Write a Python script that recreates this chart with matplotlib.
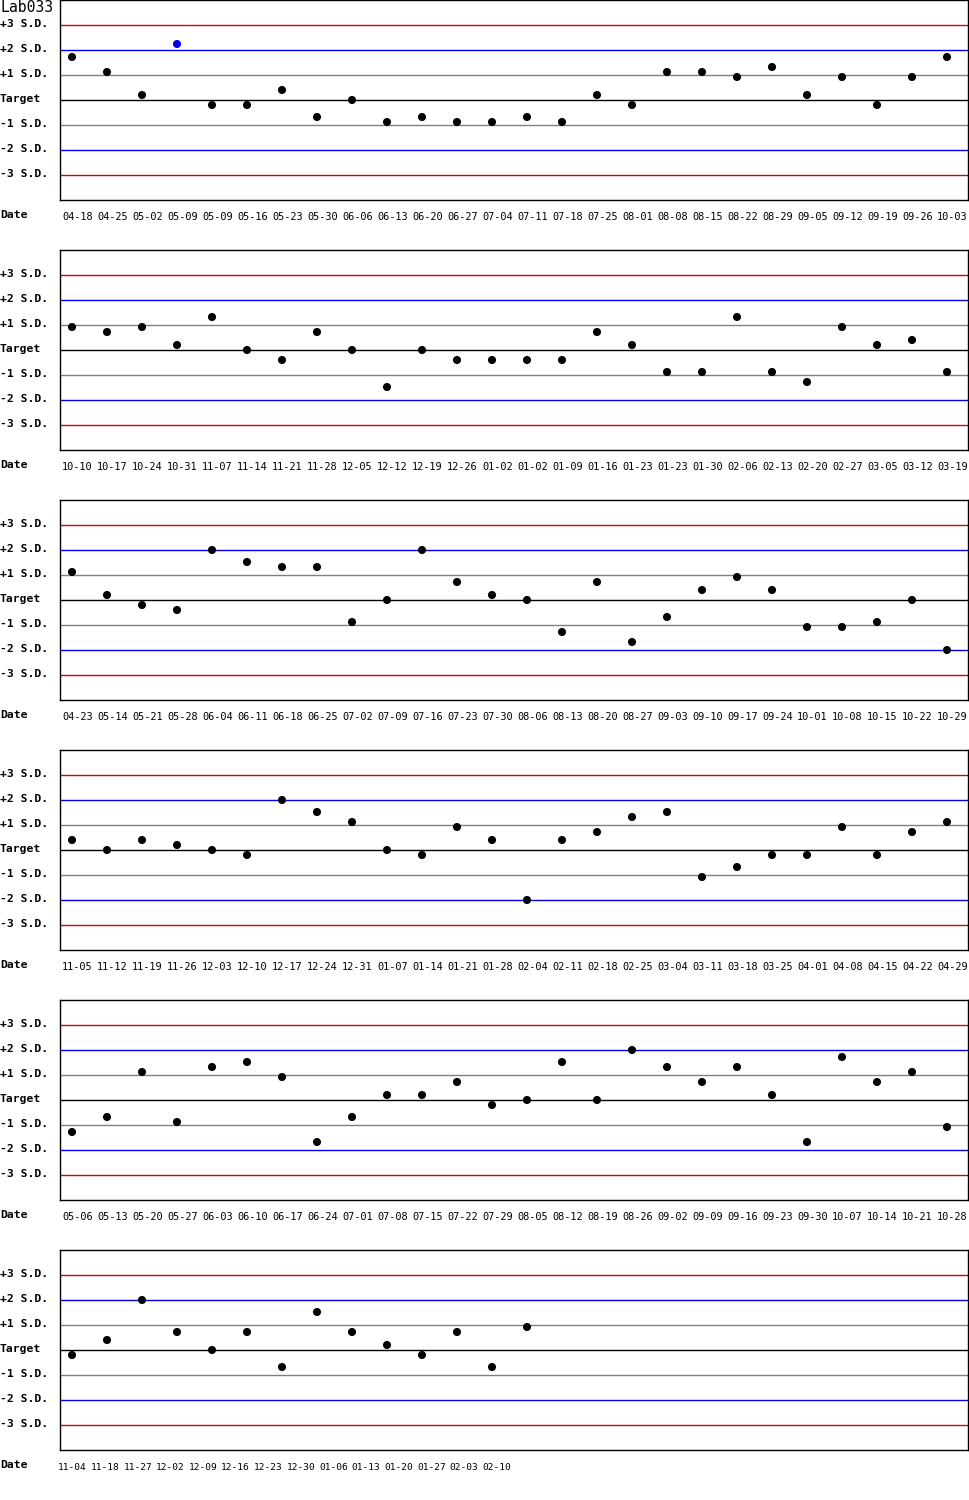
import matplotlib
matplotlib.use("Agg")
import matplotlib.pyplot as plt
import numpy as np

# values are in S.D. units relative to target
dates_1 = ["04-18", "04-25", "05-02", "05-09", "05-09", "05-16", "05-23", "05-30", "06-06",
           "06-13", "06-20", "06-27", "07-04", "07-11", "07-18", "07-25", "08-01", "08-08",
           "08-15", "08-22", "08-29", "09-05", "09-12", "09-19", "09-26", "10-03"]
sd_1 = [1.72, 1.12, 0.2, 2.24, -0.2, -0.2, 0.4, -0.68, 0.0, -0.88, -0.68, -0.88, -0.88,
        -0.68, -0.88, 0.2, -0.2, 1.12, 1.12, 0.92, 1.32, 0.2, 0.92, -0.2, 0.92, 1.72]

dates_2 = ["10-10", "10-17", "10-24", "10-31", "11-07", "11-14", "11-21", "11-28", "12-05",
           "12-12", "12-19", "12-26", "01-02", "01-02", "01-09", "01-16", "01-23", "01-23",
           "01-30", "02-06", "02-13", "02-20", "02-27", "03-05", "03-12", "03-19"]
sd_2 = [0.92, 0.72, 0.92, 0.2, 1.32, 0.0, -0.4, 0.72, 0.0, -1.48, 0.0, -0.4, -0.4,
        -0.4, -0.4, 0.72, 0.2, -0.88, -0.88, 1.32, -0.88, -1.28, 0.92, 0.2, 0.4, -0.88]

dates_3 = ["04-23", "05-14", "05-21", "05-28", "06-04", "06-11", "06-18", "06-25", "07-02",
           "07-09", "07-16", "07-23", "07-30", "08-06", "08-13", "08-20", "08-27", "09-03",
           "09-10", "09-17", "09-24", "10-01", "10-08", "10-15", "10-22", "10-29"]
sd_3 = [1.12, 0.2, -0.2, -0.4, 2.0, 1.52, 1.32, 1.32, -0.88, 0.0, 2.0, 0.72, 0.2,
        0.0, -1.28, 0.72, -1.68, -0.68, 0.4, 0.92, 0.4, -1.08, -1.08, -0.88, 0.0, -2.0]

dates_4 = ["11-05", "11-12", "11-19", "11-26", "12-03", "12-10", "12-17", "12-24", "12-31",
           "01-07", "01-14", "01-21", "01-28", "02-04", "02-11", "02-18", "02-25", "03-04",
           "03-11", "03-18", "03-25", "04-01", "04-08", "04-15", "04-22", "04-29"]
sd_4 = [0.4, 0.0, 0.4, 0.2, 0.0, -0.2, 2.0, 1.52, 1.12, 0.0, -0.2, 0.92, 0.4,
        -2.0, 0.4, 0.72, 1.32, 1.52, -1.08, -0.68, -0.2, -0.2, 0.92, -0.2, 0.72, 1.12]

dates_5 = ["05-06", "05-13", "05-20", "05-27", "06-03", "06-10", "06-17", "06-24", "07-01",
           "07-08", "07-15", "07-22", "07-29", "08-05", "08-12", "08-19", "08-26", "09-02",
           "09-09", "09-16", "09-23", "09-30", "10-07", "10-14", "10-21", "10-28"]
sd_5 = [-1.28, -0.68, 1.12, -0.88, 1.32, 1.52, 0.92, -1.68, -0.68, 0.2, 0.2, 0.72, -0.2,
        0.0, 1.52, 0.0, 2.0, 1.32, 0.72, 1.32, 0.2, -1.68, 1.72, 0.72, 1.12, -1.08]

dates_6 = ["11-04", "11-18", "11-27", "12-02", "12-09", "12-16", "12-23", "12-30", "01-06",
           "01-13", "01-20", "01-27", "02-03", "02-10"]
sd_6 = [-0.2, 0.4, 2.0, 0.72, 0.0, 0.72, -0.68, 1.52, 0.72, 0.2, -0.2, 0.72, -0.68, 0.92]

lab_name = "Lab033"
sd_levels = [3, 2, 1, 0, -1, -2, -3]
sd_labels = ["+3 S.D.", "+2 S.D.", "+1 S.D.", "Target", "-1 S.D.", "-2 S.D.", "-3 S.D."]
level_colors = {3: "#dd0000", 2: "#0000ee", 1: "#808080", 0: "#000000"}

panels = [(dates_1, sd_1), (dates_2, sd_2), (dates_3, sd_3),
          (dates_4, sd_4), (dates_5, sd_5), (dates_6, sd_6)]

W, H = 970, 1500
fig = plt.figure(figsize=(W / 100, H / 100), dpi=100)
mono = "DejaVu Sans Mono"


def fx(px):
    return px / W


def fy(py):
    return 1 - py / H


for k, (dates, vals) in enumerate(panels):
    top = 250 * k
    ax = fig.add_axes([fx(60), fy(top + 200), fx(908), 200 / H])
    ax.set_xlim(-12 / 35, 896 / 35)
    ax.set_ylim(-4, 4)
    for lvl in sd_levels:
        ax.axhline(lvl, color=level_colors[abs(lvl)], lw=1.0, zorder=1)
    vals = np.asarray(vals)
    x = np.arange(len(vals))
    cols = np.where(np.abs(vals) > 2, "#0000ee", "#000000")
    ax.scatter(x, vals, s=34, c=cols, zorder=3, linewidths=0)
    ax.set_xticks([])
    ax.set_yticks([])
    for sp in ax.spines.values():
        sp.set_linewidth(1.0)
        sp.set_color("black")

    for lvl, lab in zip(sd_levels, sd_labels):
        fig.text(fx(0), fy(top + 100 - 25 * lvl - 1), lab, fontsize=8.2, family=mono,
                 fontweight="bold", ha="left", va="center")
    fig.text(fx(0), fy(top + 215), "Date", fontsize=8.2, family=mono,
             fontweight="bold", ha="left", va="center")

    if len(dates) > 20:
        step, x0, fs = 35, 62, 7.4
    else:
        step, x0, fs = 32.6, 58.3, 6.8
    for i, d in enumerate(dates):
        fig.text(fx(x0 + step * i), fy(top + 217), d, fontsize=fs, family=mono,
                 ha="left", va="center")

fig.text(fx(0), fy(8), lab_name, fontsize=10.6, family=mono, ha="left", va="center")

fig.savefig("out.png", dpi=100)
